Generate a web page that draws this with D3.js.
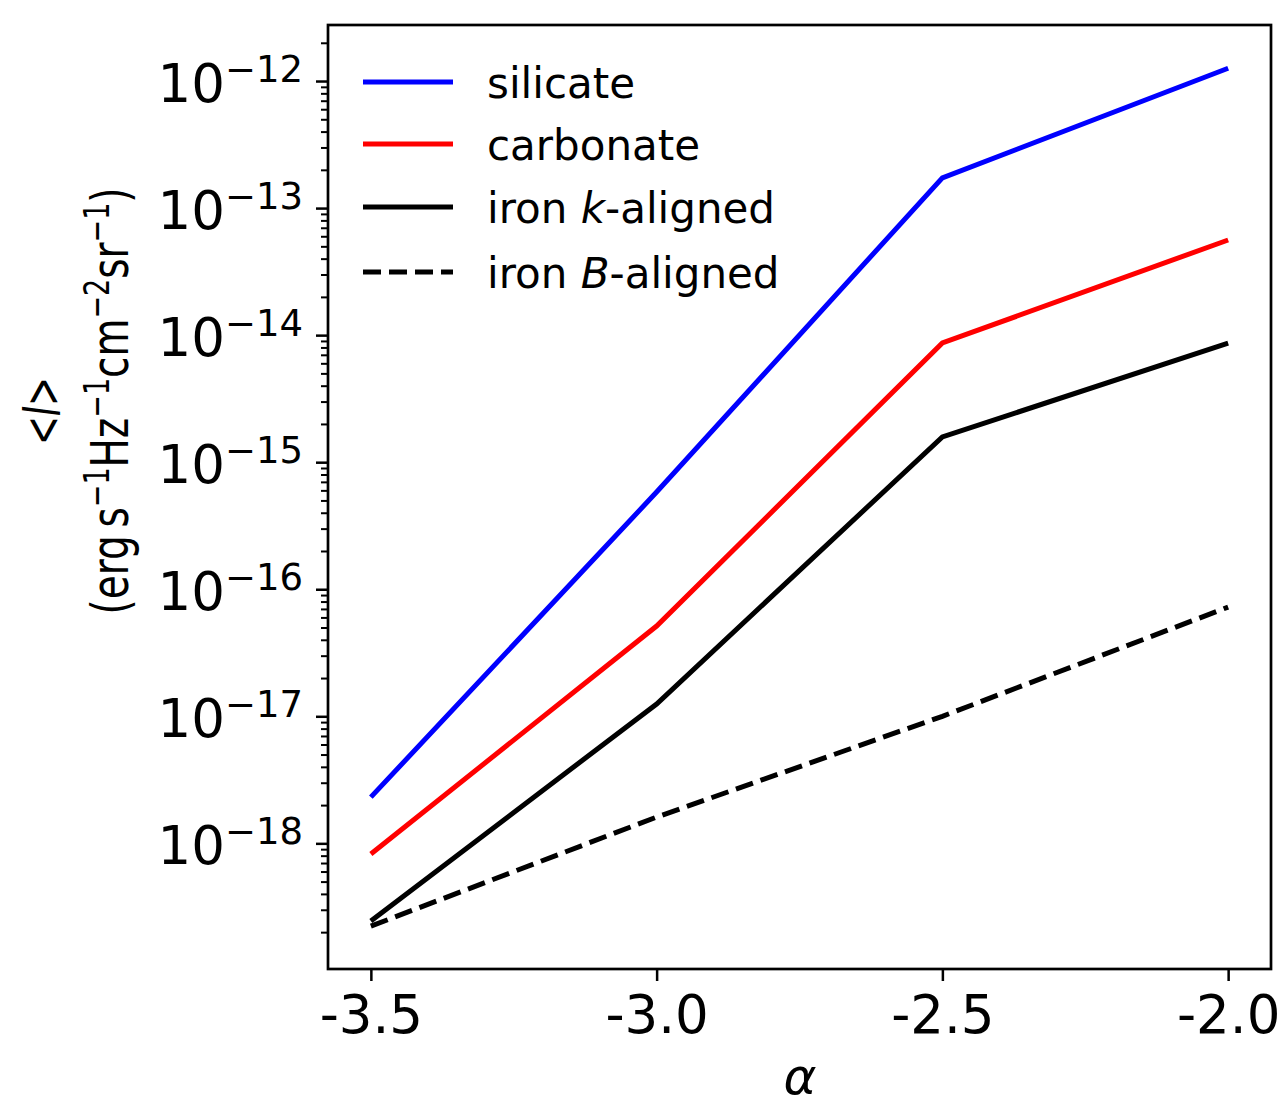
<!DOCTYPE html>
<html>
<head>
<meta charset="utf-8">
<title>Mean intensity vs alpha</title>
<script src="https://cdn.jsdelivr.net/npm/d3@7"></script>
<style>
  body { margin: 0; background: #fff; }
  svg text { font-family: "DejaVu Sans", sans-serif; fill: #000; }
</style>
</head>
<body>
<div id="chart"></div>
<script>
// values
var alpha = [-3.5, -3.0, -2.5, -2.0];
var silicate  = [2.31e-18, 5.82e-16, 1.73e-13, 1.26e-12];
var carbonate = [8.24e-19, 5.13e-17, 8.67e-15, 5.61e-14];
var ironK     = [2.45e-19, 1.25e-17, 1.58e-15, 8.67e-15];
var ironB     = [2.23e-19, 1.61e-18, 1.00e-17, 7.24e-17];
var xTicks = [-3.5, -3.0, -2.5, -2.0];
var xTickLabels = ["-3.5", "-3.0", "-2.5", "-2.0"];
var yTicks = [1e-18, 1e-17, 1e-16, 1e-15, 1e-14, 1e-13, 1e-12];
var seriesNames = ["silicate", "carbonate", "iron k-aligned", "iron B-aligned"];

var width = 1285, height = 1106;
// plot box (note: "top" is taken by window.top, so use own names)
var boxL = 328, boxR = 1271, boxT = 25, boxB = 969;
var lw = 5;

var svg = d3.select("#chart").append("svg")
    .attr("width", width).attr("height", height);

var x = d3.scaleLinear().domain([-3.575, -1.925]).range([boxL, boxR]);
var y = d3.scaleLog().domain([Math.pow(10, -18.989), Math.pow(10, -11.559)]).range([boxB, boxT]);

var series = [
  {name: seriesNames[0], values: silicate, color: "#0000ff", dash: null},
  {name: seriesNames[1], values: carbonate, color: "#ff0000", dash: null},
  {name: seriesNames[2], values: ironK, color: "#000000", dash: null},
  {name: seriesNames[3], values: ironB, color: "#000000", dash: "18,8"}
];

var line = d3.line()
    .x(function(d, i) { return x(alpha[i]); })
    .y(function(d) { return y(d); });

svg.selectAll("path.series").data(series).enter()
    .append("path").attr("class", "series")
    .attr("d", function(d) { return line(d.values); })
    .attr("fill", "none")
    .attr("stroke", function(d) { return d.color; })
    .attr("stroke-width", lw)
    .attr("stroke-dasharray", function(d) { return d.dash; });

// x axis
var xAxis = d3.axisBottom(x).tickValues(xTicks)
    .tickFormat(function(d, i) { return xTickLabels[i]; })
    .tickSize(12).tickPadding(12);
var gx = svg.append("g").attr("transform", "translate(0," + boxB + ")").call(xAxis);
gx.select(".domain").remove();
gx.selectAll(".tick line").attr("stroke-width", 2.5);
gx.selectAll(".tick text").attr("font-size", 53).attr("dy", "0.76em")
    .style("font-family", "DejaVu Sans");

// y axis, major
var yAxis = d3.axisLeft(y).tickValues(yTicks).tickFormat("").tickSize(12);
var gy = svg.append("g").attr("transform", "translate(" + boxL + ",0)").call(yAxis);
gy.select(".domain").remove();
gy.selectAll(".tick line").attr("stroke-width", 2.5);

// y axis, minor
var minor = y.ticks().filter(function(v) {
  var e = Math.log10(v);
  return Math.abs(e - Math.round(e)) > 1e-6;
});
var gyMinor = svg.append("g").attr("transform", "translate(" + boxL + ",0)")
    .call(d3.axisLeft(y).tickValues(minor).tickFormat("").tickSize(7));
gyMinor.select(".domain").remove();
gyMinor.selectAll(".tick line").attr("stroke-width", 2);

// y tick labels 10^-n
var yl = svg.append("g").selectAll("text").data(yTicks).enter()
    .append("text")
    .attr("x", 303)
    .attr("y", function(d) { return y(d) + 21; })
    .attr("text-anchor", "end");
yl.append("tspan").attr("font-size", 53).text("10");
yl.append("tspan").attr("font-size", 37).attr("dy", -20.5)
    .text(function(d) { return "\u2212" + Math.round(-Math.log10(d)); });

// frame
svg.append("rect")
    .attr("x", boxL).attr("y", boxT)
    .attr("width", boxR - boxL).attr("height", boxB - boxT)
    .attr("fill", "none").attr("stroke", "#000").attr("stroke-width", 2.7);

// axis labels
svg.append("text")
    .attr("x", 800).attr("y", 1094)
    .attr("text-anchor", "middle")
    .attr("font-size", 50).attr("font-style", "italic")
    .text("\u03b1");

var yLab1 = svg.append("text")
    .attr("transform", "translate(60,411) rotate(-90)")
    .attr("text-anchor", "middle").attr("font-size", 52)
    .attr("textLength", 68).attr("lengthAdjust", "spacingAndGlyphs");
yLab1.append("tspan").text("<");
yLab1.append("tspan").attr("font-style", "italic").text("I");
yLab1.append("tspan").text(">");

var yLab2 = svg.append("text")
    .attr("transform", "translate(128,401) rotate(-90)")
    .attr("text-anchor", "middle").attr("font-size", 52)
    .attr("textLength", 427).attr("lengthAdjust", "spacingAndGlyphs");
var unitParts = [["(erg\u2009s", "\u22121"], ["Hz", "\u22121"], ["cm", "\u22122"], ["sr", "\u22121"]];
unitParts.forEach(function(p, i) {
  yLab2.append("tspan").attr("font-size", 52).attr("dy", i === 0 ? 0 : 19).text(p[0]);
  yLab2.append("tspan").attr("font-size", 36).attr("dy", -19).text(p[1]);
});
yLab2.append("tspan").attr("font-size", 52).attr("dy", 19).text(")");

// legend
var legendY = [82, 144, 207, 272];
var leg = svg.append("g").selectAll("g").data(series).enter()
    .append("g")
    .attr("transform", function(d, i) { return "translate(0," + legendY[i] + ")"; });
leg.append("line")
    .attr("x1", 363).attr("x2", 453)
    .attr("stroke", function(d) { return d.color; })
    .attr("stroke-width", lw)
    .attr("stroke-dasharray", function(d) { return d.dash; });
var lt = leg.append("text").attr("x", 487).attr("y", 16).attr("font-size", 42);
lt.each(function(d) {
  var t = d3.select(this);
  var m = d.name.match(/^iron (\w)(-aligned)$/);
  if (m) {
    t.append("tspan").text("iron ");
    t.append("tspan").attr("font-style", "italic").text(m[1]);
    t.append("tspan").text(m[2]);
  } else {
    t.text(d.name);
  }
});
</script>
</body>
</html>
